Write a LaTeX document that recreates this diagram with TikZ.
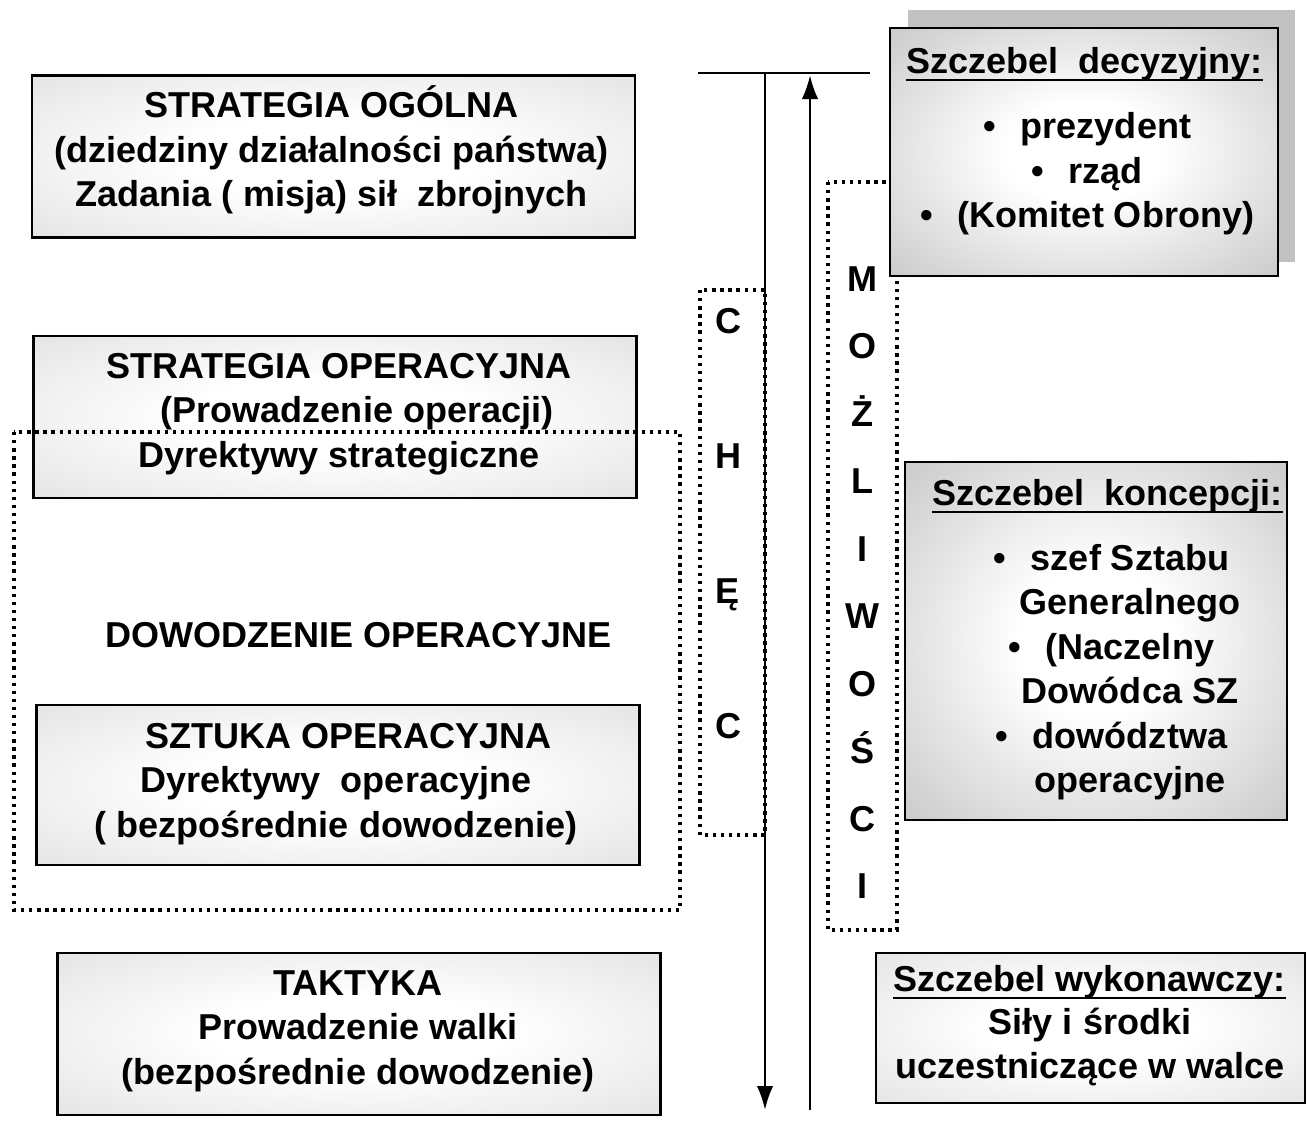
\documentclass[tikz,border=0pt]{standalone}
\usepackage{fontspec}
\setmainfont{Liberation Sans}
\usetikzlibrary{arrows.meta}

\pgfdeclareradialshading{paperfade}{\pgfpoint{0bp}{0bp}}{color(0bp)=(white); color(12bp)=(white); color(46bp)=(gray!30); color(80bp)=(gray!30)}
\pgfdeclareradialshading{darkfade}{\pgfpoint{0bp}{0bp}}{color(0bp)=(white); color(10bp)=(white); color(46bp)=(gray!58); color(80bp)=(gray!58)}

\begin{document}
\begin{tikzpicture}[
  every node/.style={inner sep=0pt, font=\bfseries\fontsize{20.5}{25.3}\selectfont},
  levelbox/.style={draw, line width=1.6pt, shading=paperfade, minimum width=12.06cm, minimum height=3.24cm},
  rankbox/.style={draw, line width=1.6pt, shading=darkfade},
  dotline/.style={line width=1.9pt, dash pattern=on 1.9pt off 2.7pt},
  flow/.style={line width=1.6pt, -{Latex[length=4.8mm,width=3.3mm]}}
]
\def\bul{\llap{\textbullet\hspace{0.7em}}}
\useasboundingbox (0,0) rectangle (26.16,-22.42);

% Levels on the left
\node[levelbox] (ogolna) at (6.67,-3.13) {};
\node[align=center] (ogolnaT) at (6.63,-3.0) {STRATEGIA OGÓLNA\\(dziedziny działalności państwa)\\Zadania ( misja) sił\ \ zbrojnych};
\node[levelbox] (operacyjna) at (6.70,-8.34) {};
\node[align=center] (operacyjnaT) at (6.78,-8.28) {STRATEGIA OPERACYJNA\\\hspace*{1em}(Prowadzenie operacji)\\Dyrektywy strategiczne};
\node[levelbox, minimum height=3.2cm] (sztuka) at (6.76,-15.7) {};
\node[align=center] (sztukaT) at (6.72,-15.68) {\hspace*{0.7em}SZTUKA OPERACYJNA\\Dyrektywy\ \ operacyjne\\( bezpośrednie dowodzenie)};
\node[levelbox] (taktyka) at (7.18,-20.68) {};
\node[align=center] (taktykaT) at (7.16,-20.62) {TAKTYKA\\Prowadzenie walki\\(bezpośrednie dowodzenie)};

% Dotted frame round the operational level
\draw[dotline] (0.28,-8.64) rectangle (13.6,-18.2);
\node (dowodzenie) at (7.17,-12.7) {DOWODZENIE OPERACYJNE};

% Arrows in the middle
\coordinate (topL) at (13.96,-1.46);
\coordinate (topR) at (17.4,-1.46);
\coordinate (downS) at (15.3,-1.46);
\coordinate (downE) at (15.3,-22.2);
\coordinate (upS) at (16.2,-22.2);
\coordinate (upE) at (16.2,-1.5);
\draw[line width=1.6pt] (topL) -- (topR);
\draw[flow] (downS) -- (downE);
\draw[flow] (upS) -- (upE);

% Dotted columns with letters
\draw[dotline] (14.0,-5.8) rectangle (15.3,-16.7);
\foreach \ch [count=\i] in {C,H,Ę,C}
  \node[anchor=base] (chec\i) at (14.56,{-6.66-(\i-1)*2.7}) {\ch};
\draw[dotline] (16.56,-3.64) rectangle (17.94,-18.6);
\foreach \ch [count=\i] in {M,O,Ż,L,I,W,O,Ś,C,I}
  \node[anchor=base] (mozl\i) at (17.24,{-5.82-(\i-1)*1.35}) {\ch};

% Decision level with its shadow
\fill[gray!48] (18.16,-0.2) rectangle (25.9,-5.24);
\node[rankbox, minimum width=7.76cm, minimum height=4.96cm] (decyzja) at (21.68,-3.04) {};
\node[anchor=base west] (decyzjaT) at (18.12,-1.46) {Szczebel\ \ decyzyjny:};
\draw[line width=1.5pt] ([yshift=-0.14cm]decyzjaT.base west) -- ([yshift=-0.14cm]decyzjaT.base east);
\node[align=center] (decyzjaL) at (22.12,-3.48) {\bul prezydent\\\bul rząd\\\bul (Komitet Obrony)};

% Concept level
\node[rankbox, minimum width=7.64cm, minimum height=7.16cm] (koncepcja) at (21.92,-12.82) {};
\node[anchor=base west] (koncepcjaT) at (18.64,-10.1) {Szczebel\ \ koncepcji:};
\draw[line width=1.5pt] ([yshift=-0.14cm]koncepcjaT.base west) -- ([yshift=-0.14cm]koncepcjaT.base east);
\node[align=center] (koncepcjaL) at (22.6,-13.44) {\bul szef Sztabu\\Generalnego\\\bul (Naczelny\\Dowódca SZ\\\bul dowództwa\\operacyjne};

% Executive level
\node[draw, line width=1.6pt, shading=paperfade, minimum width=8.58cm, minimum height=3.0cm] (wykonanie) at (21.81,-20.56) {};
\node[anchor=base west] (wykonanieT) at (17.86,-19.82) {Szczebel wykonawczy:};
\draw[line width=1.5pt] ([yshift=-0.14cm]wykonanieT.base west) -- ([yshift=-0.14cm]wykonanieT.base east);
\node[align=center] (wykonanieL) at (21.8,-20.94) {Siły i środki\\uczestniczące w walce};
\end{tikzpicture}
\end{document}
